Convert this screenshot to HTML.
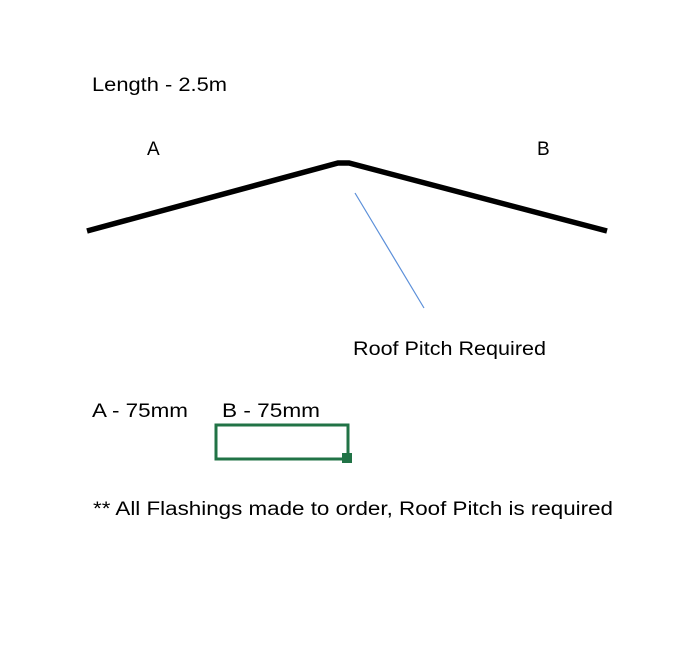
<!DOCTYPE html>
<html><head><style>html,body{margin:0;padding:0;background:#fff}svg{display:block}</style></head>
<body>
<svg width="690" height="650" xmlns="http://www.w3.org/2000/svg" font-family="Liberation Sans, sans-serif" font-size="19" fill="#000">
<rect width="690" height="650" fill="#fff"/>
<text x="92" y="91" textLength="135" lengthAdjust="spacingAndGlyphs">Length - 2.5m</text>
<text x="147" y="155">A</text>
<text x="537" y="155">B</text>
<polyline points="87,231 338,163 349,163 607,231" fill="none" stroke="#000" stroke-width="5.5"/>
<line x1="355" y1="193" x2="424" y2="308" stroke="#5b8fd9" stroke-width="1.2"/>
<text x="353" y="355" textLength="193" lengthAdjust="spacingAndGlyphs">Roof Pitch Required</text>
<text x="92" y="417" textLength="96" lengthAdjust="spacingAndGlyphs">A - 75mm</text>
<text x="222" y="417" textLength="98" lengthAdjust="spacingAndGlyphs">B - 75mm</text>
<rect x="216" y="425" width="132" height="34" fill="none" stroke="#217346" stroke-width="3"/>
<rect x="342" y="453" width="10" height="10" fill="#217346"/>
<text x="93" y="515" textLength="520" lengthAdjust="spacingAndGlyphs">** All Flashings made to order, Roof Pitch is required</text>
</svg>
</body></html>
